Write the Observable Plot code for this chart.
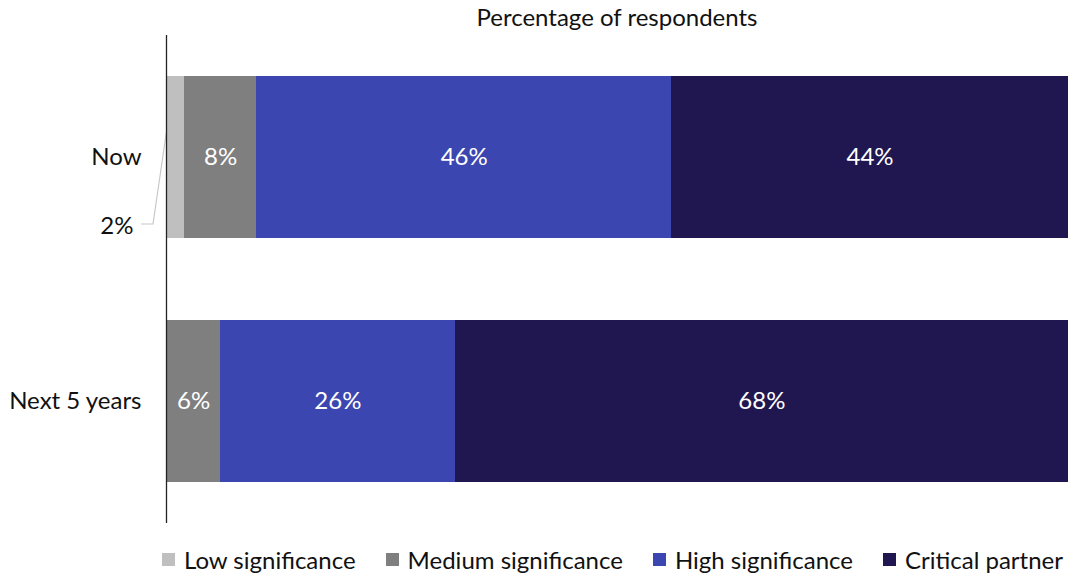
<!DOCTYPE html>
<html>
<head>
<meta charset="utf-8">
<script src="https://cdn.jsdelivr.net/npm/d3@7"></script>
<script src="https://cdn.jsdelivr.net/npm/@observablehq/plot@0.6"></script>
<style>
  body { margin: 0; background: #fff; font-family: Lato, "Open Sans", sans-serif; }
  #title { height: 35px; line-height: 33px; padding-left: 166px; text-align: center; font-size: 24px; color: #111; }
  #legend { margin-top: 21px; height: 30px; display: flex; justify-content: flex-end; padding-right: 5px; align-items: center; font-size: 24px; color: #111; }
  .item { display: flex; align-items: center; margin-left: 30px; }
  .sw { width: 13px; height: 13px; margin-right: 9px; }
</style>
</head>
<body>
<div id="title">Percentage of respondents</div>
<div id="chart"></div>
<div id="legend"></div>
<script>
const categories = ["Now", "Next 5 years"];
const levels = ["Low significance", "Medium significance", "High significance", "Critical partner"];
const nowValues = [2, 8, 46, 44];
const next5Values = [0, 6, 26, 68];
const colors = ["#bfbfbf", "#7f7f7f", "#3c46b0", "#211750"];

const rows = [];
[nowValues, next5Values].forEach((vals, i) => {
  vals.forEach((v, j) => rows.push({period: categories[i], level: levels[j], value: v}));
});
const smallLabels = [{period: "Now", label: "2%"}];

function leader(index, scales) {
  const x0 = scales.x(0);
  const ys = scales.y;
  const bw = typeof ys.bandwidth === "function" ? ys.bandwidth() : ys.bandwidth;
  const cy = ys("Now") + bw / 2;
  const g = d3.create("svg:path")
    .attr("d", `M${x0 - 25},${cy + 67}H${x0 - 13}L${x0 + 1},${cy - 29}`)
    .attr("fill", "none")
    .attr("stroke", "#c8c8c8")
    .attr("stroke-width", 1.2);
  return g.node();
}

const chart = Plot.plot({
  width: 1068,
  height: 488,
  marginLeft: 166,
  marginRight: 0,
  marginTop: 0,
  marginBottom: 0,
  style: {fontFamily: "Lato, 'Open Sans', sans-serif", fontSize: "24px", color: "#111"},
  x: {domain: [0, 100], axis: null},
  y: {domain: categories, paddingInner: 0.336, paddingOuter: 0.168, label: null, tickSize: 0, tickPadding: 25},
  color: {domain: levels, range: colors},
  marks: [
    leader,
    Plot.barX(rows, Plot.stackX({x: "value", y: "period", fill: "level", order: levels, shapeRendering: "crispEdges"})),
    Plot.text(rows, Plot.stackX({x: "value", y: "period", z: "level", order: levels,
      text: d => d.value >= 5 ? d.value + "%" : "", fill: "white", fontSize: 24})),
    Plot.text(smallLabels, {x: () => 0, y: "period", text: "label", dx: -33, dy: 69, textAnchor: "end", fill: "#111", fontSize: 24}),
    Plot.ruleX([0], {stroke: "#222", strokeWidth: 1.3})
  ]
});
document.getElementById("chart").appendChild(chart);

const legend = document.getElementById("legend");
levels.forEach((l, i) => {
  const item = document.createElement("div");
  item.className = "item";
  const sw = document.createElement("div");
  sw.className = "sw";
  sw.style.background = colors[i];
  const t = document.createElement("span");
  t.textContent = l;
  item.appendChild(sw);
  item.appendChild(t);
  legend.appendChild(item);
});
</script>
</body>
</html>
